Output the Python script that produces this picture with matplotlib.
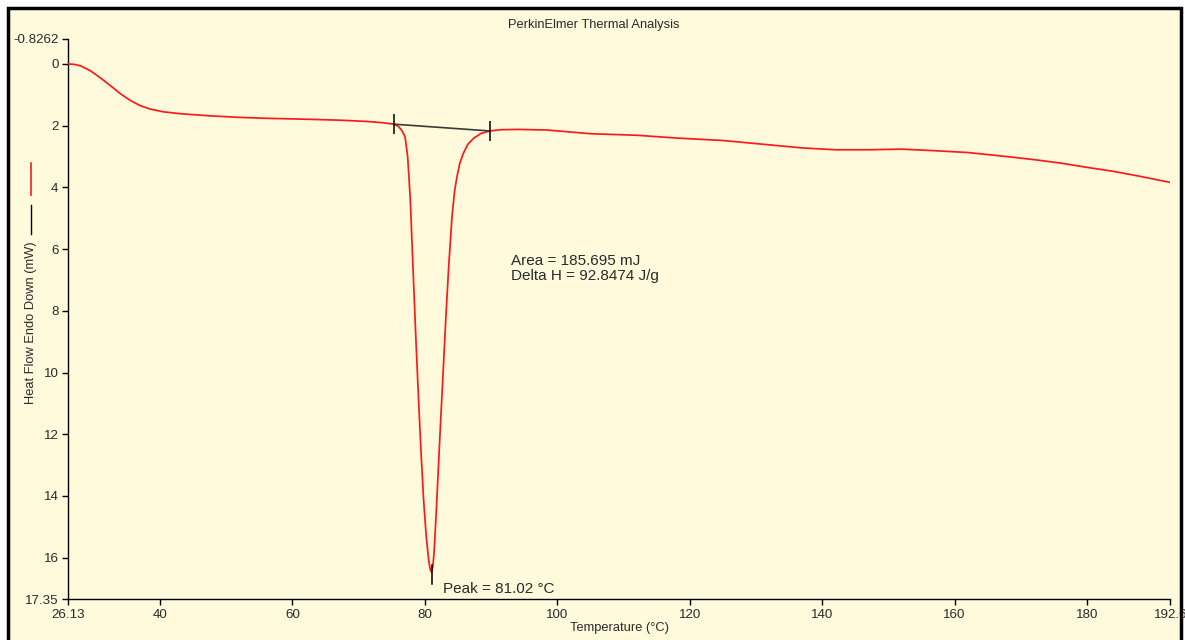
"""
PerkinElmer DSC thermogram - heat flow vs temperature with melting peak
"""

import matplotlib
matplotlib.use('Agg')
import matplotlib.pyplot as plt
from matplotlib.patches import Rectangle
from matplotlib.lines import Line2D

plt.rcParams['font.family'] = ['Liberation Sans', 'DejaVu Sans']

# Data
temperature = [
    26.13, 27.0, 28.0, 29.5, 31.0, 32.5, 34.0, 35.5, 37.0, 38.5,
    40.5, 43.0, 47.5, 52.0, 56.0, 62.0, 67.0, 71.0, 73.5, 75.3,
    76.0, 76.5, 77.0, 77.4, 77.8, 78.3, 78.7, 79.05, 79.4, 79.8,
    80.2, 80.56, 80.8, 81.0, 81.2, 81.4, 81.7, 82.06, 82.4, 82.8,
    83.2, 83.6, 84.1, 84.5, 84.85, 85.3, 85.8, 86.5, 87.4, 88.5,
    89.8, 91.5, 94.0, 98.5, 105.0, 112.0, 118.0, 125.0, 131.0, 137.0,
    142.0, 147.0, 152.0, 157.0, 162.0, 167.0, 172.0, 176.0, 180.0, 184.0,
    188.0, 192.6,
]
heat_flow = [
    0.0, 0.01, 0.06, 0.22, 0.45, 0.70, 0.96, 1.18, 1.35, 1.46,
    1.55, 1.61, 1.68, 1.73, 1.76, 1.79, 1.82, 1.86, 1.90, 1.95,
    2.02, 2.15, 2.35, 3.0, 4.4, 7.1, 9.2, 10.9, 12.5, 14.1,
    15.3, 16.05, 16.38, 16.47, 16.3, 15.8, 14.6, 13.0, 11.5, 9.8,
    8.1, 6.56, 4.94, 4.1, 3.65, 3.2, 2.9, 2.6, 2.4, 2.25,
    2.17, 2.13, 2.12, 2.14, 2.26, 2.31, 2.40, 2.48, 2.60, 2.72,
    2.78, 2.78, 2.76, 2.81, 2.87, 2.98, 3.10, 3.21, 3.35, 3.48,
    3.64, 3.84,
]

# Integration baseline end points and peak
baseline_t = [75.3, 89.8]
baseline_h = [1.95, 2.17]
peak_t = 81.02
peak_marker_h = [16.25, 16.85]

x_ticks = [26.13, 40, 60, 80, 100, 120, 140, 160, 180, 192.6]
x_labels = ['26.13', '40', '60', '80', '100', '120', '140', '160', '180', '192.6']
y_ticks = [-0.8262, 0, 2, 4, 6, 8, 10, 12, 14, 16, 17.35]
y_labels = ['-0.8262', '0', '2', '4', '6', '8', '10', '12', '14', '16', '17.35']

W, H = 1185, 640
bg = '#fffadc'
text_col = '#2a2a2a'

fig = plt.figure(figsize=(W / 100, H / 100), dpi=100, facecolor='white')

# yellow panel with black frame
fig.add_artist(Rectangle((8 / W, -0.02), (1181 - 8) / W, 1.02 - 8 / H,
                         transform=fig.transFigure, facecolor=bg,
                         edgecolor='none', zorder=0))

ax = fig.add_axes([68.2 / W, 1 - 599.3 / H, (1170.4 - 68.2) / W, (599.3 - 38.5) / H])
ax.set_facecolor('none')

ax.plot(temperature, heat_flow, color='#ff1a1a', linewidth=1.25, zorder=3)
ax.plot(baseline_t, baseline_h, color='#3a3a3a', linewidth=1.2, zorder=4)
ax.plot(baseline_t, baseline_h, linestyle='none', marker='|', markersize=15,
        markeredgewidth=1.1, color='black', zorder=5)
ax.plot([peak_t, peak_t], peak_marker_h, color='black', linewidth=1.1, zorder=5)

ax.set_xlim(x_ticks[0], x_ticks[-1])
ax.set_ylim(y_ticks[-1], y_ticks[0])

ax.set_xticks(x_ticks)
ax.set_xticklabels(x_labels)
ax.set_yticks(y_ticks)
ax.set_yticklabels(y_labels)
ax.tick_params(direction='out', length=4, width=1, colors='black',
               labelcolor=text_col, labelsize=9.6)
ax.tick_params(axis='x', pad=3)
ax.tick_params(axis='y', pad=3)

for side in ['top', 'right']:
    ax.spines[side].set_visible(False)
for side in ['left', 'bottom']:
    ax.spines[side].set_linewidth(1)
    ax.spines[side].set_color('black')

# annotations
ax.text(93.0, 6.63, 'Area = 185.695 mJ\nDelta H = 92.8474 J/g', fontsize=11,
        color=text_col, ha='left', va='center', linespacing=1.05)
ax.text(82.7, 17.0, 'Peak = 81.02 °C', fontsize=11, color=text_col,
        ha='left', va='center')

# titles
fig.text(594 / W, 1 - 25 / H, 'PerkinElmer Thermal Analysis', fontsize=9.3,
         color=text_col, ha='center', va='center')
fig.text(619 / W, 1 - 628 / H, 'Temperature (°C)', fontsize=9.3,
         color=text_col, ha='center', va='center')
fig.text(31 / W, 1 - 323 / H, 'Heat Flow Endo Down (mW)', fontsize=9.3,
         color=text_col, ha='center', va='center', rotation=90)

# legend swatches next to the y label
fig.add_artist(Line2D([30.5 / W, 30.5 / W], [1 - 163 / H, 1 - 195 / H],
                      color='#ff1a1a', linewidth=1.2))
fig.add_artist(Line2D([30.5 / W, 30.5 / W], [1 - 205 / H, 1 - 234 / H],
                      color='black', linewidth=1.0))

# outer frame drawn on top
fig.add_artist(Rectangle((8 / W, -0.02), (1181 - 8) / W, 1.02 - 8 / H,
                         transform=fig.transFigure, facecolor='none',
                         edgecolor='black', linewidth=2.5, zorder=20))

fig.savefig('out.png', dpi=100, facecolor='white')
